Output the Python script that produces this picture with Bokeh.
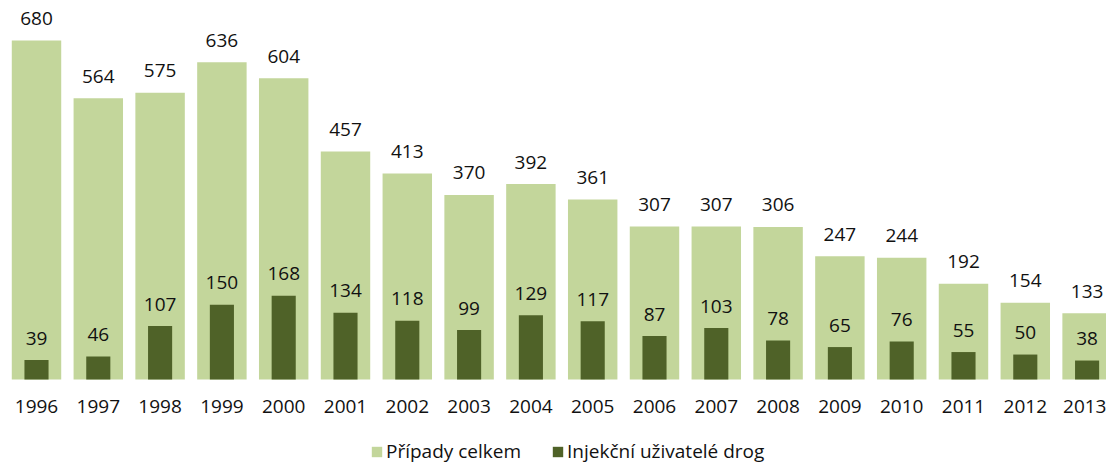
from bokeh.plotting import figure
from bokeh.models import ColumnDataSource, Range1d, FixedTicker, Legend, LegendItem
from bokeh.core.properties import value
from bokeh.embed import file_html
from bokeh.resources import INLINE

years = ["1996", "1997", "1998", "1999", "2000", "2001", "2002", "2003", "2004",
         "2005", "2006", "2007", "2008", "2009", "2010", "2011", "2012", "2013"]
total = [680, 564, 575, 636, 604, 457, 413, 370, 392, 361, 307, 307, 306, 247, 244, 192, 154, 133]
idu = [39, 46, 107, 150, 168, 134, 118, 99, 129, 117, 87, 103, 78, 65, 76, 55, 50, 38]
series_names = ["Případy celkem", "Injekční uživatelé drog"]

LIGHT = "#C3D69B"
DARK = "#4F6228"
FONT = "Open Sans"
FS = "19px"
TXT = "#111111"

idx = list(range(len(years)))
src = ColumnDataSource(dict(
    x=idx, total=total, idu=idu,
    total_lbl=[str(v) for v in total],
    idu_lbl=[str(v) for v in idu],
))

# 0.4985 px per case; baseline sits 86 px above the bottom edge
p = figure(width=1106, height=465,
           x_range=Range1d(-0.5825, 17.314), y_range=Range1d(-172.5, 760.0),
           output_backend="svg", toolbar_location=None,
           min_border_left=0, min_border_right=0, min_border_top=0, min_border_bottom=0)
p.outline_line_color = None
p.grid.visible = False
p.yaxis.visible = False
p.background_fill_color = "white"
p.border_fill_color = "white"

ax = p.xaxis[0]
ax.fixed_location = 0
ax.ticker = FixedTicker(ticks=idx)
ax.major_label_overrides = {i: y for i, y in zip(idx, years)}
ax.axis_line_color = None
ax.major_tick_line_color = None
ax.minor_tick_line_color = None
ax.major_label_text_font = FONT
ax.major_label_text_font_size = FS
ax.major_label_text_color = TXT
ax.major_label_standoff = 15

r1 = p.vbar(x="x", top="total", width=0.8, source=src, fill_color=LIGHT, line_color=None)
r2 = p.vbar(x="x", top="idu", width=0.39, source=src, fill_color=DARK, line_color=None)

p.text(x="x", y="total", text="total_lbl", source=src, text_align="center",
       text_baseline="alphabetic", y_offset=-22, text_font=value(FONT),
       text_font_size=FS, text_color=TXT)
p.text(x="x", y="idu", text="idu_lbl", source=src, text_align="center",
       text_baseline="alphabetic", y_offset=-22, text_font=value(FONT),
       text_font_size=FS, text_color=TXT)

legend = Legend(items=[LegendItem(label=series_names[0], renderers=[r1]),
                       LegendItem(label=series_names[1], renderers=[r2])],
                orientation="horizontal", location=(370, 1),
                glyph_width=13, glyph_height=13, label_standoff=3, spacing=30,
                border_line_color=None, background_fill_alpha=0,
                label_text_font=FONT, label_text_font_size=FS,
                label_text_color=TXT, padding=0, margin=0)
p.add_layout(legend)

open("out.html", "w").write(file_html(p, INLINE))
